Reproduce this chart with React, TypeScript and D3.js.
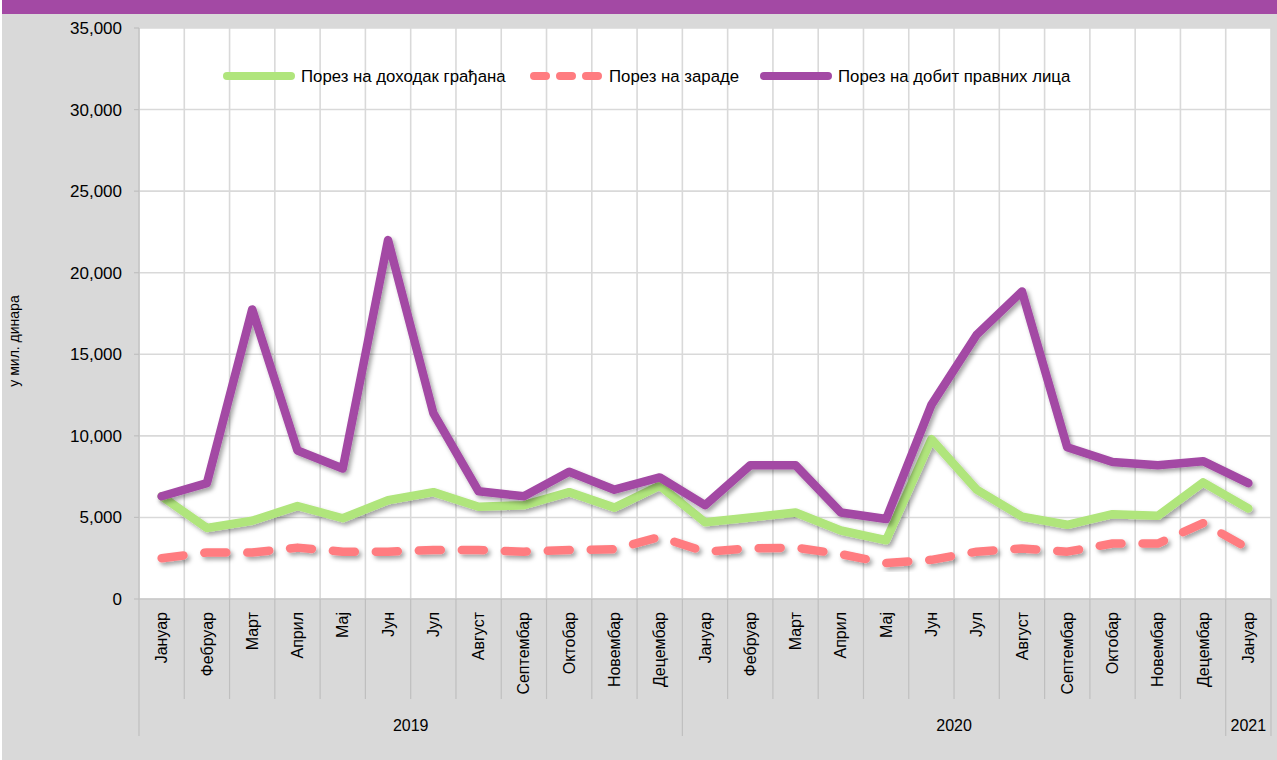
import React from 'react';
import * as d3 from 'd3';

const months = ['Јануар','Фебруар','Март','Април','Мај','Јун','Јул','Август','Септембар','Октобар','Новембар','Децембар','Јануар','Фебруар','Март','Април','Мај','Јун','Јул','Август','Септембар','Октобар','Новембар','Децембар','Јануар'];
const years = [
  { label: '2019', start: 0, end: 12 },
  { label: '2020', start: 12, end: 24 },
  { label: '2021', start: 24, end: 25 },
];
const incomeTax = [6300, 4350, 4800, 5700, 4950, 6050, 6550, 5650, 5750, 6550, 5600, 6950, 4700, 5000, 5300, 4200, 3600, 9800, 6700, 5050, 4550, 5200, 5100, 7150, 5550];
const wageTax = [2500, 2850, 2850, 3150, 2900, 2900, 3000, 3000, 2900, 3000, 3050, 3800, 2900, 3100, 3150, 2750, 2200, 2400, 2900, 3100, 2900, 3400, 3400, 4650, 3100];
const profitTax = [6300, 7100, 17750, 9100, 8000, 22000, 11400, 6600, 6300, 7800, 6700, 7450, 5750, 8200, 8200, 5300, 4900, 11900, 16200, 18850, 9300, 8400, 8200, 8450, 7100];
const yTicks = [0, 5000, 10000, 15000, 20000, 25000, 30000, 35000];
const seriesNames = ['Порез на доходак грађана', 'Порез на зараде', 'Порез на добит правних лица'];
const yTitle = 'у мил. динара';

const W = 1277, H = 760;
const L = 139, R = 1271, T = 28, B = 599;
const FONT = '"Liberation Sans", Arial, sans-serif';
const GREEN = '#b0e57c', PINK = '#ff7c80', PURPLE = '#a349a4';

export default function App() {
  const idx = months.map((_, i) => i);
  const x = d3.scaleBand<number>().domain(idx).range([L, R]).padding(0);
  const cx = (i: number) => (x(i) as number) + x.bandwidth() / 2;
  const y = d3.scaleLinear().domain([0, 35000]).range([B, T]);
  const line = d3.line<number>().x((_, i) => cx(i)).y(d => y(d));
  const boundary = (i: number) => (i < months.length ? (x(i) as number) : R);

  const series = [
    { name: seriesNames[0], data: incomeTax, color: GREEN, dash: undefined as string | undefined, legDash: undefined as string | undefined },
    { name: seriesNames[1], data: wageTax, color: PINK, dash: '22 21', legDash: '12 14' },
    { name: seriesNames[2], data: profitTax, color: PURPLE, dash: undefined, legDash: undefined },
  ];
  const legendItems = [
    { x0: 223, x1: 295, tx: 301 },
    { x0: 530, x1: 602, tx: 609 },
    { x0: 760, x1: 832, tx: 838 },
  ];
  const yearBounds = [0, 12, 24, 25];

  return (
    <div style={{ position: 'fixed', left: 0, top: 0 }}>
      <svg width={W} height={H} style={{ display: 'block' }}>
        <defs>
          <filter id="shadow" x="-10%" y="-10%" width="120%" height="130%">
            <feDropShadow dx="2.5" dy="3" stdDeviation="2" floodColor="#000" floodOpacity="0.35" />
          </filter>
        </defs>
        <rect x={0} y={0} width={W} height={H} fill="#d9d9d9" />
        <rect x={0} y={0} width={2} height={H} fill="#ffffff" />
        <rect x={2} y={0} width={W - 2} height={14} fill={PURPLE} />
        <rect x={L} y={T} width={R - L} height={B - T} fill="#ffffff" />
        {yTicks.map(t => (
          <line key={'h' + t} x1={L} x2={R} y1={y(t)} y2={y(t)} stroke="#d9d9d9" strokeWidth={1.6} />
        ))}
        {d3.range(months.length + 1).map(i => (
          <line key={'v' + i} x1={boundary(i)} x2={boundary(i)} y1={T} y2={B} stroke="#d9d9d9" strokeWidth={1.6} />
        ))}
        <line x1={L} x2={L} y1={T} y2={B} stroke="#bfbfbf" strokeWidth={1.2} />
        {yTicks.map(t => (
          <g key={'yt' + t}>
            <line x1={L - 5} x2={L} y1={y(t)} y2={y(t)} stroke="#bfbfbf" strokeWidth={1.2} />
            <text x={122} y={y(t)} dy="0.35em" textAnchor="end" fontFamily={FONT} fontSize={17} fill="#000">
              {d3.format(',')(t)}
            </text>
          </g>
        ))}
        <text transform={`translate(19,341) rotate(-90)`} textAnchor="middle" fontFamily={FONT} fontSize={14} fill="#000">
          {yTitle}
        </text>
        <line x1={L} x2={R} y1={B} y2={B} stroke="#bfbfbf" strokeWidth={1.2} />
        {d3.range(months.length + 1).map(i => {
          const isYear = yearBounds.includes(i);
          return (
            <line key={'xt' + i} x1={boundary(i)} x2={boundary(i)} y1={B} y2={isYear ? 736 : 699} stroke="#bfbfbf" strokeWidth={1.2} />
          );
        })}
        {months.map((m, i) => (
          <text key={'m' + i} transform={`translate(${cx(i)},612) rotate(-90)`} dy="0.35em" textAnchor="end" fontFamily={FONT} fontSize={16} fill="#000">
            {m}
          </text>
        ))}
        {years.map(yr => (
          <text key={yr.label} x={(boundary(yr.start) + boundary(yr.end)) / 2} y={725} dy="0.35em" textAnchor="middle" fontFamily={FONT} fontSize={16} fill="#000">
            {yr.label}
          </text>
        ))}
        {series.map(s => (
          <path key={s.name} d={line(s.data) as string} fill="none" stroke={s.color} strokeWidth={8.5}
            strokeLinejoin="round" strokeLinecap="round" strokeDasharray={s.dash} filter="url(#shadow)" />
        ))}
        {series.map((s, i) => (
          <g key={'lg' + i}>
            <line x1={legendItems[i].x0 + 4} x2={legendItems[i].x1 - 4} y1={76} y2={76} stroke={s.color} strokeWidth={8}
              strokeLinecap="round" strokeDasharray={s.legDash} />
            <text x={legendItems[i].tx} y={76} dy="0.35em" fontFamily={FONT} fontSize={16.8} fill="#000">{s.name}</text>
          </g>
        ))}
      </svg>
    </div>
  );
}
